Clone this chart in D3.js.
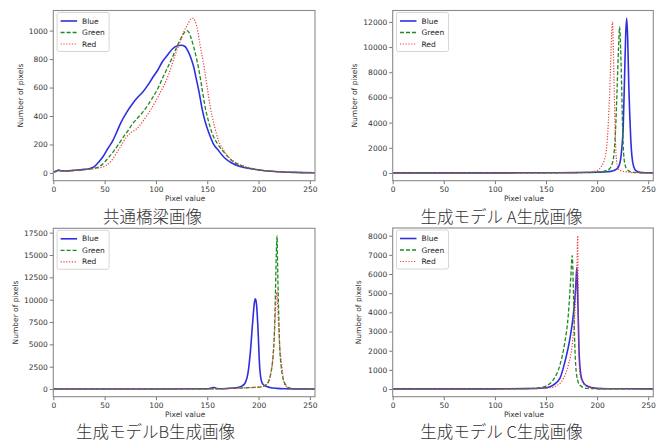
<!DOCTYPE html>
<html>
<head>
<meta charset="utf-8">
<script src="https://cdn.jsdelivr.net/npm/d3@7"></script>
<style>
  body { margin: 0; background: #fff; }
  svg text { font-family: "DejaVu Sans", sans-serif; }
</style>
</head>
<body>
<div id="wrapper"></div>
<script>
// x ticks shared by all four histograms
const xTicks = [0, 50, 100, 150, 200, 250];
const seriesNames = ["Blue", "Green", "Red"];

// 共通橋梁画像
const bridgeBlue = [[0,5],[3,12],[5,20],[8,15],[12,14],[20,18],[30,25],[36,32],[40,45],[44,75],[48,110],[53,170],[58,227],[62,290],[66,356],[71,420],[77,485],[82,530],[87,567],[92,615],[97,672],[102,725],[106,778],[111,825],[116,871],[121,893],[125,897],[128,890],[131,860],[134,810],[137,740],[139,672],[142,570],[145,450],[148,360],[152,274],[156,205],[161,157],[167,105],[174,70],[182,45],[194,28],[206,16],[220,8],[235,4],[255,2]];
const bridgeGreen = [[0,5],[5,18],[10,15],[20,18],[30,24],[38,30],[45,45],[50,75],[54,110],[58,145],[63,195],[68,250],[73,300],[77,344],[82,385],[87,426],[92,475],[97,532],[102,595],[106,660],[111,735],[116,812],[120,880],[124,941],[127,980],[130,1000],[132,990],[134,953],[137,880],[140,790],[142,719],[145,590],[148,461],[151,370],[155,274],[160,205],[165,157],[170,115],[174,87],[182,55],[194,28],[206,16],[220,8],[235,4],[255,2]];
const bridgeRed = [[0,5],[5,15],[10,14],[20,17],[30,22],[40,30],[46,38],[52,55],[57,90],[61,133],[66,190],[71,250],[76,285],[81,309],[86,350],[90,391],[95,445],[100,508],[105,575],[110,649],[115,745],[119,836],[123,910],[127,988],[131,1045],[134,1082],[136,1087],[138,1070],[140,1023],[143,900],[147,742],[150,600],[153,461],[157,330],[161,227],[166,160],[171,110],[177,75],[184,52],[192,35],[200,23],[210,14],[222,8],[235,4],[255,2]];
const bridgeYTicks = [0, 200, 400, 600, 800, 1000];

// 生成モデル A生成画像
const modelABlue = [[0,10],[50,10],[100,10],[150,15],[180,30],[200,60],[210,100],[215,160],[219,300],[222,700],[224,1800],[225.5,3500],[227,8000],[228,11000],[229,12290],[230,10500],[231,7000],[232,4500],[233,2600],[234,1400],[236,450],[238,180],[242,50],[248,20],[255,10]];
const modelAGreen = [[0,10],[100,10],[150,15],[180,30],[200,70],[207,150],[212,320],[215,800],[216.5,1500],[218,3300],[219.5,6500],[221,10000],[222,11600],[223,10000],[224,7000],[225,3500],[226,1500],[227.5,600],[229,320],[232,120],[236,40],[245,15],[255,10]];
const modelARed = [[0,10],[100,10],[150,15],[180,40],[195,100],[200,185],[204,500],[207,1000],[209,1770],[211,4000],[213,8000],[214,10500],[215,12030],[216,9500],[217,5700],[218,2500],[219,1000],[221,300],[224,150],[228,100],[232,40],[240,15],[255,10]];
const modelAYTicks = [0, 2000, 4000, 6000, 8000, 10000, 12000];

// 生成モデルB生成画像
const modelBBlue = [[0,10],[50,10],[100,10],[150,30],[155,150],[157,180],[159,60],[165,40],[175,110],[180,180],[184,350],[187,700],[190,2000],[192,4130],[194,7100],[196,9700],[197,10100],[198,9500],[199.3,7100],[201,2660],[203,810],[205,450],[208,280],[212,150],[218,80],[225,40],[235,20],[255,10]];
const modelBGreen = [[0,10],[100,10],[150,20],[170,60],[180,100],[190,150],[197,200],[203,260],[207,450],[210,900],[212,1800],[214,3500],[215.5,6500],[216.5,11000],[217.5,16000],[218,17130],[218.7,13000],[219.5,9000],[220.5,5000],[222,2600],[224,1100],[227,400],[230,120],[235,40],[245,15],[255,10]];
const modelBRed = [[0,10],[100,10],[150,20],[170,60],[180,100],[190,150],[197,200],[203,260],[207,450],[210,900],[212,1800],[214,3500],[215.5,6200],[217,9800],[218,10900],[219,8200],[220.5,5000],[222.6,2660],[224,1300],[225.8,440],[229,150],[235,40],[245,15],[255,10]];
const modelBYTicks = [0, 2500, 5000, 7500, 10000, 12500, 15000, 17500];

// 生成モデル C生成画像
const modelCBlue = [[0,10],[100,10],[130,20],[145,40],[150.6,70],[157,208],[163.6,554],[168.5,1420],[173.4,2630],[176.7,3845],[179,5230],[180.2,6356],[181,5000],[181.5,3845],[182.5,1767],[184.8,554],[189.7,173],[199.5,35],[210,15],[255,10]];
const modelCGreen = [[0,10],[100,10],[130,25],[145,80],[150.6,173],[157,468],[163.6,1247],[168.5,2460],[171.8,3845],[174,5577],[175.7,6960],[177,4711],[178.3,2113],[180,727],[183,208],[189.7,35],[200,15],[255,10]];
const modelCRed = [[0,10],[100,10],[140,25],[153.8,70],[160.4,173],[167,554],[171.8,1247],[176,2460],[179,4711],[180.3,6500],[181,8000],[181.5,5000],[181.9,2979],[183,900],[186.4,294],[193,70],[200,25],[255,10]];
const modelCYTicks = [0, 1000, 2000, 3000, 4000, 5000, 6000, 7000, 8000];

const captions = ["共通橋梁画像", "生成モデル A生成画像", "生成モデルB生成画像", "生成モデル C生成画像"];

// line styles
const styles = {
  Blue:  { color: "#2f2fe0", width: 1.6, dash: null },
  Green: { color: "#1e8a1e", width: 1.3, dash: "4,2" },
  Red:   { color: "#f03a3a", width: 1.2, dash: "1.2,1.6" }
};

const panels = [
  { left: 53.3, right: 315, top: 10.5, bottom: 180.7, series: [bridgeBlue, bridgeGreen, bridgeRed], yTicks: bridgeYTicks, caption: captions[0], capX: 152.5, capY: 222.5, ylabX: 20 },
  { left: 392.7, right: 653.3, top: 10.5, bottom: 180.7, series: [modelABlue, modelAGreen, modelARed], yTicks: modelAYTicks, caption: captions[1], capX: 501.5, capY: 222.5, ylabX: 354 },
  { left: 53.3, right: 315, top: 228.3, bottom: 396.7, series: [modelBBlue, modelBGreen, modelBRed], yTicks: modelBYTicks, caption: captions[2], capX: 155.5, capY: 437.5, ylabX: 15 },
  { left: 392.7, right: 653.3, top: 228, bottom: 396.7, series: [modelCBlue, modelCGreen, modelCRed], yTicks: modelCYTicks, caption: captions[3], capX: 501.5, capY: 437.5, ylabX: 358 }
];

const svg = d3.select("#wrapper")
  .append("svg")
  .attr("width", 665)
  .attr("height", 441);

panels.forEach(p => {
  const xScale = d3.scaleLinear().domain([0, 255]).range([p.left, p.right]);

  // matplotlib style 5% margin on y
  const yMax = d3.max(p.series, s => d3.max(s, d => d[1]));
  const pad = yMax * 0.05;
  const yScale = d3.scaleLinear().domain([-pad, yMax + pad]).range([p.bottom, p.top]);

  const lineGenerator = d3.line()
    .x(d => xScale(d[0]))
    .y(d => yScale(d[1]))
    .curve(d3.curveMonotoneX);

  const clipId = "clip" + Math.round(p.left) + Math.round(p.top);
  svg.append("clipPath").attr("id", clipId)
    .append("rect")
    .attr("x", p.left).attr("y", p.top)
    .attr("width", p.right - p.left).attr("height", p.bottom - p.top);

  const plot = svg.append("g").attr("clip-path", `url(#${clipId})`);
  p.series.forEach((s, i) => {
    const st = styles[seriesNames[i]];
    plot.append("path")
      .attr("d", lineGenerator(s))
      .attr("fill", "none")
      .attr("stroke", st.color)
      .attr("stroke-width", st.width)
      .attr("stroke-dasharray", st.dash);
  });

  // axes
  const xAxis = svg.append("g")
    .attr("transform", `translate(0,${p.bottom})`)
    .call(d3.axisBottom(xScale).tickValues(xTicks).tickSize(3.5).tickPadding(2));
  const yAxis = svg.append("g")
    .attr("transform", `translate(${p.left},0)`)
    .call(d3.axisLeft(yScale).tickValues(p.yTicks).tickFormat(d3.format("d")).tickSize(3.5).tickPadding(2));
  [xAxis, yAxis].forEach(a => {
    a.select(".domain").remove();
    a.selectAll(".tick line").attr("stroke", "#555").attr("stroke-width", 0.8);
    a.selectAll(".tick text").attr("fill", "#333").style("font-size", "7.5px").style("font-family", "DejaVu Sans");
  });

  // frame
  svg.append("rect")
    .attr("x", p.left).attr("y", p.top)
    .attr("width", p.right - p.left).attr("height", p.bottom - p.top)
    .attr("fill", "none")
    .attr("stroke", "#8a8a8a")
    .attr("stroke-width", 1.1);

  // axis labels
  svg.append("text")
    .attr("x", (p.left + p.right) / 2 + 1)
    .attr("y", p.bottom + 20)
    .attr("text-anchor", "middle")
    .attr("fill", "#333")
    .style("font-size", "7.5px")
    .text("Pixel value");

  svg.append("text")
    .attr("transform", `translate(${p.ylabX + 2.5},${(p.top + p.bottom) / 2}) rotate(-90)`)
    .attr("text-anchor", "middle")
    .attr("fill", "#333")
    .style("font-size", "7.5px")
    .text("Number of pixels");

  // legend
  const lg = svg.append("g").attr("transform", `translate(${p.left + 3.8},${p.top + 2})`);
  lg.append("rect")
    .attr("width", 52).attr("height", 39)
    .attr("rx", 2)
    .attr("fill", "#fff").attr("fill-opacity", 0.85)
    .attr("stroke", "#ccc").attr("stroke-width", 0.8);
  seriesNames.forEach((name, i) => {
    const st = styles[name];
    const yy = 8.5 + i * 11.5;
    lg.append("line")
      .attr("x1", 3.5).attr("x2", 20).attr("y1", yy).attr("y2", yy)
      .attr("stroke", st.color).attr("stroke-width", st.width)
      .attr("stroke-dasharray", st.dash);
    lg.append("text")
      .attr("x", 25).attr("y", yy + 2.7)
      .attr("fill", "#222")
      .style("font-size", "7.5px")
      .text(name);
  });

  // caption
  svg.append("text")
    .attr("x", p.capX).attr("y", p.capY)
    .attr("text-anchor", "middle")
    .attr("fill", "#333")
    .style("font-family", "'Noto Sans CJK JP', sans-serif")
    .style("font-weight", 300)
    .style("font-size", "16.5px")
    .text(p.caption);
});
</script>
</body>
</html>
